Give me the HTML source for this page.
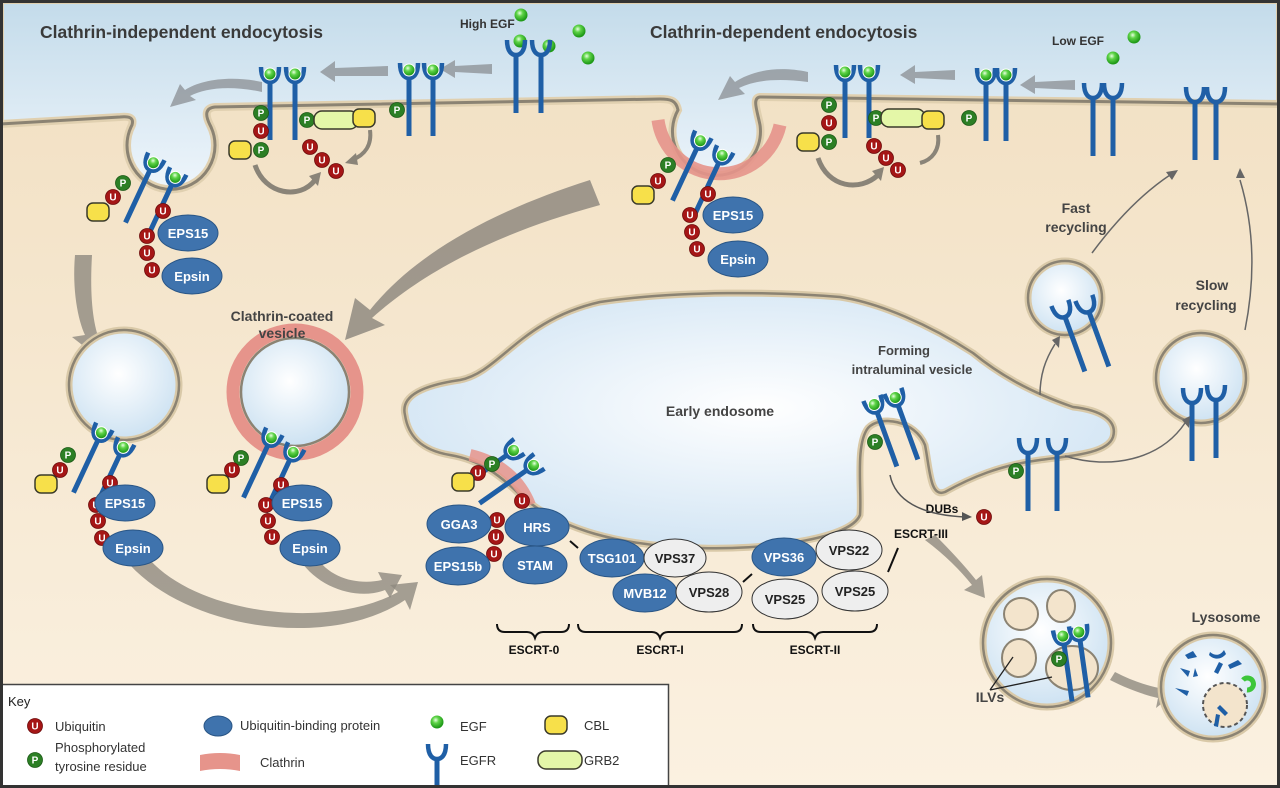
<!DOCTYPE html>
<html><head><meta charset="utf-8"><style>
html,body{margin:0;padding:0;background:#fff}
svg{display:block}
text{font-family:"Liberation Sans",sans-serif}
</style></head><body>
<svg width="1280" height="788" viewBox="0 0 1280 788" xmlns="http://www.w3.org/2000/svg">
<defs>
<linearGradient id="sky" x1="0" y1="0" x2="0" y2="1"><stop offset="0" stop-color="#c3dbea"/><stop offset="1" stop-color="#eef5fb"/></linearGradient>
<linearGradient id="cell" x1="0" y1="0" x2="0" y2="1"><stop offset="0" stop-color="#f1dfc1"/><stop offset="1" stop-color="#fbf1e1"/></linearGradient>
<radialGradient id="ves" cx="0.45" cy="0.4" r="0.6"><stop offset="0" stop-color="#ffffff"/><stop offset="1" stop-color="#cde2f2"/></radialGradient>
<radialGradient id="endo" cx="0.5" cy="0.45" r="0.6"><stop offset="0" stop-color="#ffffff"/><stop offset="1" stop-color="#cfe3f3"/></radialGradient>
<radialGradient id="gball" cx="0.4" cy="0.35" r="0.6"><stop offset="0" stop-color="#e8ffe0"/><stop offset="0.4" stop-color="#5fd448"/><stop offset="1" stop-color="#1f9a18"/></radialGradient>
<linearGradient id="arrg" x1="0" y1="0" x2="1" y2="0"><stop offset="0" stop-color="#9b9588" stop-opacity="0.1"/><stop offset="1" stop-color="#9b9588"/></linearGradient>
<g id="rec"><path d="M-9,-15 C-9,-3 -4,0 0,0 C4,0 9,-3 9,-15" fill="none" stroke="#1f5fa6" stroke-width="4.5"/><line x1="0" y1="0" x2="0" y2="58" stroke="#1f5fa6" stroke-width="5"/></g>
<g id="recE"><use href="#rec"/><circle cx="0" cy="-8" r="6" fill="url(#gball)" stroke="#fff" stroke-width="1"/></g>
<g id="U"><circle r="7.5" fill="#a51616" stroke="#6d0b0b" stroke-width="0.8"/><text y="3.5" text-anchor="middle" font-size="10" font-weight="bold" fill="#fff">U</text></g>
<g id="P"><circle r="7.5" fill="#2c7f25" stroke="#1c5a17" stroke-width="0.8"/><text y="3.5" text-anchor="middle" font-size="10" font-weight="bold" fill="#fff">P</text></g>
<rect id="cbl" x="-11" y="-9" width="22" height="18" rx="6" fill="#f7e04a" stroke="#3a3a2a" stroke-width="1.5"/>
<rect id="grb" x="-22" y="-9" width="44" height="18" rx="8" fill="#e4f7a8" stroke="#3a3a2a" stroke-width="1.5"/>
</defs>

<!-- background -->
<rect width="1280" height="788" fill="url(#cell)"/>
<path d="M0,0 H1280 V104 L760,97 C752,98 757,110 760,125 A44,44 0 1 1 678,110 C676,100 670,99 660,99 L215,107 C205,108 205,115 210,125 A44,44 0 1 1 132,125 C134,118 130,116 120,117 L0,124 Z" fill="url(#sky)" stroke="#e0d0b0" stroke-width="8"/>
<path d="M0,124 L120,117 C130,116 134,118 132,125 A44,44 0 1 0 210,125 C205,115 205,108 215,107 L660,99 C670,99 676,100 678,110 A44,44 0 1 0 760,125 C757,110 752,98 760,97 L1280,104" fill="none" stroke="#8b8373" stroke-width="3"/>

<!-- clathrin pit2 -->
<path d="M658,120 A62,62 0 0 0 780,125" fill="none" stroke="#e6948b" stroke-width="13" opacity="0.9"/>

<!-- titles -->
<text x="40" y="38" font-size="17.5" font-weight="bold" fill="#3a3a3a">Clathrin-independent endocytosis</text>
<text x="650" y="38" font-size="17.5" font-weight="bold" fill="#3a3a3a">Clathrin-dependent endocytosis</text>
<text x="460" y="28" font-size="12" font-weight="bold" fill="#333">High EGF</text>
<text x="1052" y="45" font-size="12" font-weight="bold" fill="#333">Low EGF</text>
<g fill="url(#gball)"><circle cx="521" cy="15" r="6.5"/><circle cx="520" cy="41" r="6.5"/><circle cx="549" cy="46" r="6.5"/><circle cx="579" cy="31" r="6.5"/><circle cx="588" cy="58" r="6.5"/><circle cx="1134" cy="37" r="6.5"/><circle cx="1113" cy="58" r="6.5"/></g>

<!-- straight gray arrows top -->
<g fill="#8f9499">
<path d="M492,64 L455,66 L455,60 L440,69 L455,78 L455,72 L492,74 Z" opacity="0.8"/>
<path d="M388,66 L335,68 L335,61 L320,72 L335,82 L335,76 L388,76 Z" opacity="0.8"/>
<path d="M1075,80 L1035,82 L1035,75 L1020,85 L1035,94 L1035,88 L1075,90 Z" opacity="0.8"/>
<path d="M955,70 L915,72 L915,65 L900,75 L915,84 L915,78 L955,80 Z" opacity="0.8"/>
<path d="M262,82 C230,75 200,80 185,90 L180,84 L170,107 L196,100 L190,96 C205,88 230,85 262,92 Z" opacity="0.8"/>
<path d="M808,72 C775,65 750,72 735,82 L730,76 L718,100 L745,94 L739,88 C755,80 778,78 808,82 Z" opacity="0.8"/>
</g>

<!-- top receptors -->
<use href="#rec" x="516" y="55"/><use href="#rec" x="541" y="55" transform="translate(0,0)"/>
<use href="#recE" x="409" y="78"/><use href="#recE" x="433" y="78"/><use href="#P" x="397" y="110"/>
<use href="#recE" x="270" y="82"/><use href="#recE" x="295" y="82"/>
<use href="#P" x="261" y="113"/><use href="#U" x="261" y="131"/><use href="#P" x="261" y="150"/><use href="#cbl" x="240" y="150"/>
<use href="#P" x="307" y="120"/><use href="#grb" x="336" y="120"/><use href="#cbl" x="364" y="118"/>
<use href="#U" x="310" y="147"/><use href="#U" x="322" y="160"/><use href="#U" x="336" y="171"/>
<path d="M255,165 C265,195 300,200 315,180" fill="none" stroke="#8a8478" stroke-width="5"/><path d="M309,176 L321,172 L318,186 Z" fill="#8a8478"/>
<path d="M370,130 C372,145 365,155 352,160" fill="none" stroke="#8a8478" stroke-width="4"/><path d="M356,153 L345,163 L358,165 Z" fill="#8a8478"/>

<use href="#rec" x="1093" y="98"/><use href="#rec" x="1113" y="98"/>
<use href="#rec" x="1195" y="102"/><use href="#rec" x="1216" y="102"/>
<use href="#recE" x="986" y="83"/><use href="#recE" x="1006" y="83"/><use href="#P" x="969" y="118"/>
<use href="#recE" x="845" y="80"/><use href="#recE" x="869" y="80"/>
<use href="#P" x="829" y="105"/><use href="#U" x="829" y="123"/><use href="#P" x="829" y="142"/><use href="#cbl" x="808" y="142"/>
<use href="#P" x="876" y="118"/><use href="#grb" x="903" y="118"/><use href="#cbl" x="933" y="120"/>
<use href="#U" x="874" y="146"/><use href="#U" x="886" y="158"/><use href="#U" x="898" y="170"/>
<path d="M818,158 C828,188 860,192 878,175" fill="none" stroke="#8a8478" stroke-width="5"/><path d="M872,171 L884,167 L881,181 Z" fill="#8a8478"/>
<path d="M938,135 C940,150 932,160 920,163" fill="none" stroke="#8a8478" stroke-width="4"/>

<!-- pit receptors -->
<g transform="translate(150,170) rotate(25)"><use href="#recE"/><use href="#recE" x="26" y="4"/></g>
<use href="#P" x="123" y="183"/><use href="#U" x="113" y="197"/><use href="#cbl" x="98" y="212"/>
<use href="#U" x="163" y="211"/><use href="#U" x="147" y="236"/><use href="#U" x="147" y="253"/><use href="#U" x="152" y="270"/>
<ellipse cx="188" cy="233" rx="30" ry="18" fill="#3f73ad" stroke="#2a5686"/><text x="188" y="238" text-anchor="middle" font-size="13" font-weight="bold" fill="#fff">EPS15</text>
<ellipse cx="192" cy="276" rx="30" ry="18" fill="#3f73ad" stroke="#2a5686"/><text x="192" y="281" text-anchor="middle" font-size="13" font-weight="bold" fill="#fff">Epsin</text>

<g transform="translate(697,148) rotate(25)"><use href="#recE"/><use href="#recE" x="26" y="4"/></g>
<use href="#P" x="668" y="165"/><use href="#U" x="658" y="181"/><use href="#cbl" x="643" y="195"/>
<use href="#U" x="708" y="194"/><use href="#U" x="690" y="215"/><use href="#U" x="692" y="232"/><use href="#U" x="697" y="249"/>
<ellipse cx="733" cy="215" rx="30" ry="18" fill="#3f73ad" stroke="#2a5686"/><text x="733" y="220" text-anchor="middle" font-size="13" font-weight="bold" fill="#fff">EPS15</text>
<ellipse cx="738" cy="259" rx="30" ry="18" fill="#3f73ad" stroke="#2a5686"/><text x="738" y="264" text-anchor="middle" font-size="13" font-weight="bold" fill="#fff">Epsin</text>

<!-- big arrows -->
<path d="M590,180 C480,215 410,260 370,310 L355,298 L345,340 L385,325 L372,318 C420,275 490,235 600,205 Z" fill="#8f8a80" opacity="0.85"/>
<path d="M75,255 C72,290 78,320 85,335 L72,337 L95,355 L108,330 L97,333 C92,315 90,290 92,255 Z" fill="#8f8a80" opacity="0.8"/>
<path d="M130,565 C190,630 330,650 405,600 L410,610 L418,582 L390,585 L398,592 C330,630 200,615 150,560 Z" fill="#8f8a80" opacity="0.8"/>
<path d="M300,560 C320,590 360,600 385,590 L390,598 L402,575 L378,572 L382,580 C360,585 330,580 315,555 Z" fill="#8f8a80" opacity="0.8"/>
<path d="M925,540 C945,555 960,570 972,585 L964,590 L985,598 L982,575 L976,580 C964,565 950,550 935,535 Z" fill="#8f8a80" opacity="0.8"/>
<path d="M1110,680 C1130,690 1145,695 1158,698 L1156,708 L1175,693 L1160,680 L1159,688 C1145,685 1130,680 1115,672 Z" fill="#8f8a80" opacity="0.8"/>

<!-- vesicles -->
<circle cx="124" cy="385" r="55" fill="url(#ves)" stroke="#d9c9a8" stroke-width="7"/><circle cx="124" cy="385" r="55" fill="none" stroke="#8b8373" stroke-width="2.5"/>
<circle cx="295" cy="392" r="62" fill="none" stroke="#e6948b" stroke-width="13"/>
<circle cx="295" cy="392" r="54" fill="url(#ves)" stroke="#8b8373" stroke-width="2.5"/>
<text x="282" y="321" text-anchor="middle" font-size="14" font-weight="bold" fill="#444">Clathrin-coated</text>
<text x="282" y="338" text-anchor="middle" font-size="14" font-weight="bold" fill="#444">vesicle</text>

<g transform="translate(98,440) rotate(25)"><use href="#recE"/><use href="#recE" x="26" y="4"/></g>
<use href="#P" x="68" y="455"/><use href="#U" x="60" y="470"/><use href="#cbl" x="46" y="484"/>
<use href="#U" x="110" y="483"/><use href="#U" x="96" y="505"/><use href="#U" x="98" y="521"/><use href="#U" x="102" y="538"/>
<ellipse cx="125" cy="503" rx="30" ry="18" fill="#3f73ad" stroke="#2a5686"/><text x="125" y="508" text-anchor="middle" font-size="13" font-weight="bold" fill="#fff">EPS15</text>
<ellipse cx="133" cy="548" rx="30" ry="18" fill="#3f73ad" stroke="#2a5686"/><text x="133" y="553" text-anchor="middle" font-size="13" font-weight="bold" fill="#fff">Epsin</text>

<g transform="translate(268,445) rotate(25)"><use href="#recE"/><use href="#recE" x="26" y="4"/></g>
<use href="#P" x="241" y="458"/><use href="#U" x="232" y="470"/><use href="#cbl" x="218" y="484"/>
<use href="#U" x="281" y="485"/><use href="#U" x="266" y="505"/><use href="#U" x="268" y="521"/><use href="#U" x="272" y="537"/>
<ellipse cx="302" cy="503" rx="30" ry="18" fill="#3f73ad" stroke="#2a5686"/><text x="302" y="508" text-anchor="middle" font-size="13" font-weight="bold" fill="#fff">EPS15</text>
<ellipse cx="310" cy="548" rx="30" ry="18" fill="#3f73ad" stroke="#2a5686"/><text x="310" y="553" text-anchor="middle" font-size="13" font-weight="bold" fill="#fff">Epsin</text>

<!-- early endosome -->
<path id="en" d="M405,415 C400,395 425,385 460,380 C500,372 520,320 600,302 C680,290 780,292 840,297 C880,303 930,325 973,353 C1000,375 1030,392 1073,407 C1100,410 1118,420 1113,437 C1108,452 1080,455 1040,460 C1000,465 970,478 945,492 C930,498 930,470 925,445 C915,420 880,415 868,428 C855,445 862,490 860,515 C850,540 760,550 700,548 C620,546 560,530 520,495 C500,475 480,460 450,455 C420,450 408,435 405,415 Z" fill="url(#endo)" stroke="#d9c9a8" stroke-width="7"/>
<path d="M405,415 C400,395 425,385 460,380 C500,372 520,320 600,302 C680,290 780,292 840,297 C880,303 930,325 973,353 C1000,375 1030,392 1073,407 C1100,410 1118,420 1113,437 C1108,452 1080,455 1040,460 C1000,465 970,478 945,492 C930,498 930,470 925,445 C915,420 880,415 868,428 C855,445 862,490 860,515 C850,540 760,550 700,548 C620,546 560,530 520,495 C500,475 480,460 450,455 C420,450 408,435 405,415 Z" fill="none" stroke="#8b8373" stroke-width="2.5"/>
<path d="M470,455 C500,462 520,480 530,505" fill="none" stroke="#e6948b" stroke-width="12" opacity="0.85"/>
<text x="720" y="416" text-anchor="middle" font-size="14" font-weight="bold" fill="#444">Early endosome</text>
<text x="904" y="355" text-anchor="middle" font-size="13" font-weight="bold" fill="#444">Forming</text>
<text x="912" y="374" text-anchor="middle" font-size="13" font-weight="bold" fill="#444">intraluminal vesicle</text>

<!-- endosome receptors -->
<g transform="translate(507,455) rotate(55)"><use href="#recE"/></g>
<g transform="translate(527,470) rotate(55)"><use href="#recE"/></g>
<use href="#P" x="492" y="464"/><use href="#U" x="478" y="473"/><use href="#cbl" x="463" y="482"/>
<use href="#U" x="522" y="501"/><use href="#U" x="497" y="520"/><use href="#U" x="496" y="537"/><use href="#U" x="494" y="554"/>
<g transform="translate(877,412) rotate(-20)"><use href="#recE"/></g>
<g transform="translate(898,405) rotate(-20)"><use href="#recE"/></g>
<use href="#P" x="875" y="442"/>
<use href="#rec" x="1028" y="453"/><use href="#rec" x="1057" y="453"/><use href="#P" x="1016" y="471"/>

<!-- ESCRT proteins -->
<g font-size="13" font-weight="bold" text-anchor="middle">
<ellipse cx="459" cy="524" rx="32" ry="19" fill="#3f73ad" stroke="#2a5686"/><text x="459" y="529" fill="#fff">GGA3</text>
<ellipse cx="537" cy="527" rx="32" ry="19" fill="#3f73ad" stroke="#2a5686"/><text x="537" y="532" fill="#fff">HRS</text>
<ellipse cx="458" cy="566" rx="32" ry="19" fill="#3f73ad" stroke="#2a5686"/><text x="458" y="571" fill="#fff">EPS15b</text>
<ellipse cx="535" cy="565" rx="32" ry="19" fill="#3f73ad" stroke="#2a5686"/><text x="535" y="570" fill="#fff">STAM</text>
<ellipse cx="612" cy="558" rx="32" ry="19" fill="#3f73ad" stroke="#2a5686"/><text x="612" y="563" fill="#fff">TSG101</text>
<ellipse cx="675" cy="558" rx="31" ry="19" fill="#eeeeee" stroke="#333"/><text x="675" y="563" fill="#222">VPS37</text>
<ellipse cx="645" cy="593" rx="32" ry="19" fill="#3f73ad" stroke="#2a5686"/><text x="645" y="598" fill="#fff">MVB12</text>
<ellipse cx="709" cy="592" rx="33" ry="20" fill="#eeeeee" stroke="#333"/><text x="709" y="597" fill="#222">VPS28</text>
<ellipse cx="784" cy="557" rx="32" ry="19" fill="#3f73ad" stroke="#2a5686"/><text x="784" y="562" fill="#fff">VPS36</text>
<ellipse cx="849" cy="550" rx="33" ry="20" fill="#eeeeee" stroke="#333"/><text x="849" y="555" fill="#222">VPS22</text>
<ellipse cx="785" cy="599" rx="33" ry="20" fill="#eeeeee" stroke="#333"/><text x="785" y="604" fill="#222">VPS25</text>
<ellipse cx="855" cy="591" rx="33" ry="20" fill="#eeeeee" stroke="#333"/><text x="855" y="596" fill="#222">VPS25</text>
</g>
<g stroke="#111" stroke-width="2" fill="none">
<path d="M570,541 L578,548"/><path d="M743,582 L752,574"/><path d="M888,572 L898,548"/>
<path d="M497,624 q0,8 8,8 h22 q6,0 8,6 q2,-6 8,-6 h18 q8,0 8,-8"/>
<path d="M578,624 q0,8 8,8 h66 q6,0 8,6 q2,-6 8,-6 h66 q8,0 8,-8"/>
<path d="M753,624 q0,8 8,8 h46 q6,0 8,6 q2,-6 8,-6 h46 q8,0 8,-8"/>
</g>
<g font-size="12" font-weight="bold" fill="#111" text-anchor="middle">
<text x="534" y="654">ESCRT-0</text><text x="660" y="654">ESCRT-I</text><text x="815" y="654">ESCRT-II</text>
<text x="921" y="538">ESCRT-III</text><text x="942" y="513">DUBs</text>
</g>
<use href="#U" x="984" y="517"/>
<path d="M890,475 C895,500 920,515 965,517" fill="none" stroke="#555" stroke-width="1.5"/><path d="M962,512 L972,517 L962,521 Z" fill="#555"/>

<!-- recycling -->
<circle cx="1065" cy="298" r="37" fill="url(#ves)" stroke="#d9c9a8" stroke-width="7"/><circle cx="1065" cy="298" r="37" fill="none" stroke="#8b8373" stroke-width="2.5"/>
<circle cx="1201" cy="378" r="45" fill="url(#ves)" stroke="#d9c9a8" stroke-width="7"/><circle cx="1201" cy="378" r="45" fill="none" stroke="#8b8373" stroke-width="2.5"/>
<g transform="translate(1065,317) rotate(-20)"><use href="#rec"/></g><g transform="translate(1089,312) rotate(-20)"><use href="#rec"/></g>
<use href="#rec" x="1192" y="403"/><use href="#rec" x="1216" y="400"/>
<g fill="none" stroke="#666" stroke-width="1.5">
<path d="M1040,395 C1040,375 1045,360 1055,344"/><path d="M1065,456 C1110,470 1160,460 1185,423"/>
<path d="M1092,253 C1115,222 1140,195 1170,175"/><path d="M1245,330 C1255,280 1255,230 1240,180"/>
</g>
<g fill="#666"><path d="M1052,340 L1060,336 L1059,348 Z"/><path d="M1182,420 L1190,416 L1189,428 Z"/><path d="M1166,172 L1178,170 L1172,180 Z"/><path d="M1236,178 L1240,168 L1245,178 Z"/></g>
<g font-size="14" font-weight="bold" fill="#444" text-anchor="middle">
<text x="1076" y="213">Fast</text><text x="1076" y="232">recycling</text>
<text x="1212" y="290">Slow</text><text x="1206" y="310">recycling</text>
<text x="1057" y="625">MVE</text><text x="1226" y="622">Lysosome</text><text x="990" y="702">ILVs</text>
</g>

<!-- MVE -->
<circle cx="1047" cy="643" r="64" fill="url(#ves)" stroke="#d9c9a8" stroke-width="7"/><circle cx="1047" cy="643" r="64" fill="none" stroke="#8b8373" stroke-width="2.5"/>
<g fill="#f3e4cc" stroke="#8b8373" stroke-width="2">
<ellipse cx="1021" cy="614" rx="17" ry="16"/><ellipse cx="1061" cy="606" rx="14" ry="16"/><ellipse cx="1019" cy="658" rx="17" ry="19"/><ellipse cx="1072" cy="668" rx="26" ry="22"/>
</g>
<use href="#recE" x="1064" y="644" transform="rotate(-8 1064 644)"/><use href="#recE" x="1080" y="640" transform="rotate(-8 1080 640)"/>
<use href="#P" x="1059" y="659"/>
<path d="M990,690 L1013,657 M990,690 L1052,677" stroke="#222" stroke-width="1.3" fill="none"/>

<!-- lysosome -->
<circle cx="1213" cy="687" r="52" fill="url(#ves)" stroke="#d9c9a8" stroke-width="7"/><circle cx="1213" cy="687" r="52" fill="none" stroke="#8b8373" stroke-width="2.5"/>
<circle cx="1225" cy="705" r="22" fill="#f3e4cc" stroke="#555" stroke-width="2" stroke-dasharray="4 3"/>
<g fill="#1f5fa6"><path d="M1185,655 l8,-4 l4,6 l-9,2Z"/><path d="M1210,652 c5,4 10,4 14,-2 l2,4 c-5,6 -12,6 -17,1Z"/><path d="M1180,668 l10,3 l-2,6Z"/><path d="M1195,668 l3,8 l-5,1Z"/><path d="M1214,672 l5,-10 l4,2 l-5,10Z"/><path d="M1228,665 l10,-5 l4,4 l-12,5Z"/><path d="M1175,688 l14,3 l-2,5Z"/><path d="M1220,705 l8,8 l-3,3 l-8,-8Z"/><path d="M1220,715 l-2,12 l-4,-1 l2,-12Z"/></g>
<path d="M1243,680 a6,6 0 1 1 4,10" fill="none" stroke="#3cc63a" stroke-width="5"/>

<!-- key -->
<rect x="0.5" y="684.5" width="668" height="103" fill="#fff" stroke="#444" stroke-width="1.5"/>
<text x="8" y="706" font-size="13" fill="#222">Key</text>
<use href="#U" x="35" y="726"/><text x="55" y="731" font-size="13" fill="#333">Ubiquitin</text>
<use href="#P" x="35" y="760"/><text x="55" y="752" font-size="13" fill="#333">Phosphorylated</text><text x="55" y="771" font-size="13" fill="#333">tyrosine residue</text>
<ellipse cx="218" cy="726" rx="14" ry="10" fill="#3f73ad" stroke="#2a5686"/><text x="240" y="730" font-size="13" fill="#333">Ubiquitin-binding protein</text>
<path d="M200,755 q20,-4 40,0 v16 q-20,-4 -40,0 Z" fill="#e6948b"/><text x="260" y="767" font-size="13" fill="#333">Clathrin</text>
<circle cx="437" cy="722" r="6.5" fill="url(#gball)"/><text x="460" y="731" font-size="13" fill="#333">EGF</text>
<use href="#rec" x="437" y="759" transform="translate(0,0)"/><text x="460" y="765" font-size="13" fill="#333">EGFR</text>
<use href="#cbl" x="556" y="725"/><text x="584" y="730" font-size="13" fill="#333">CBL</text>
<use href="#grb" x="560" y="760" transform="translate(0,0)"/><text x="584" y="765" font-size="13" fill="#333">GRB2</text>

<!-- frame -->
<rect x="1.5" y="1.5" width="1277" height="785" fill="none" stroke="#333" stroke-width="3"/>
</svg>
</body></html>
